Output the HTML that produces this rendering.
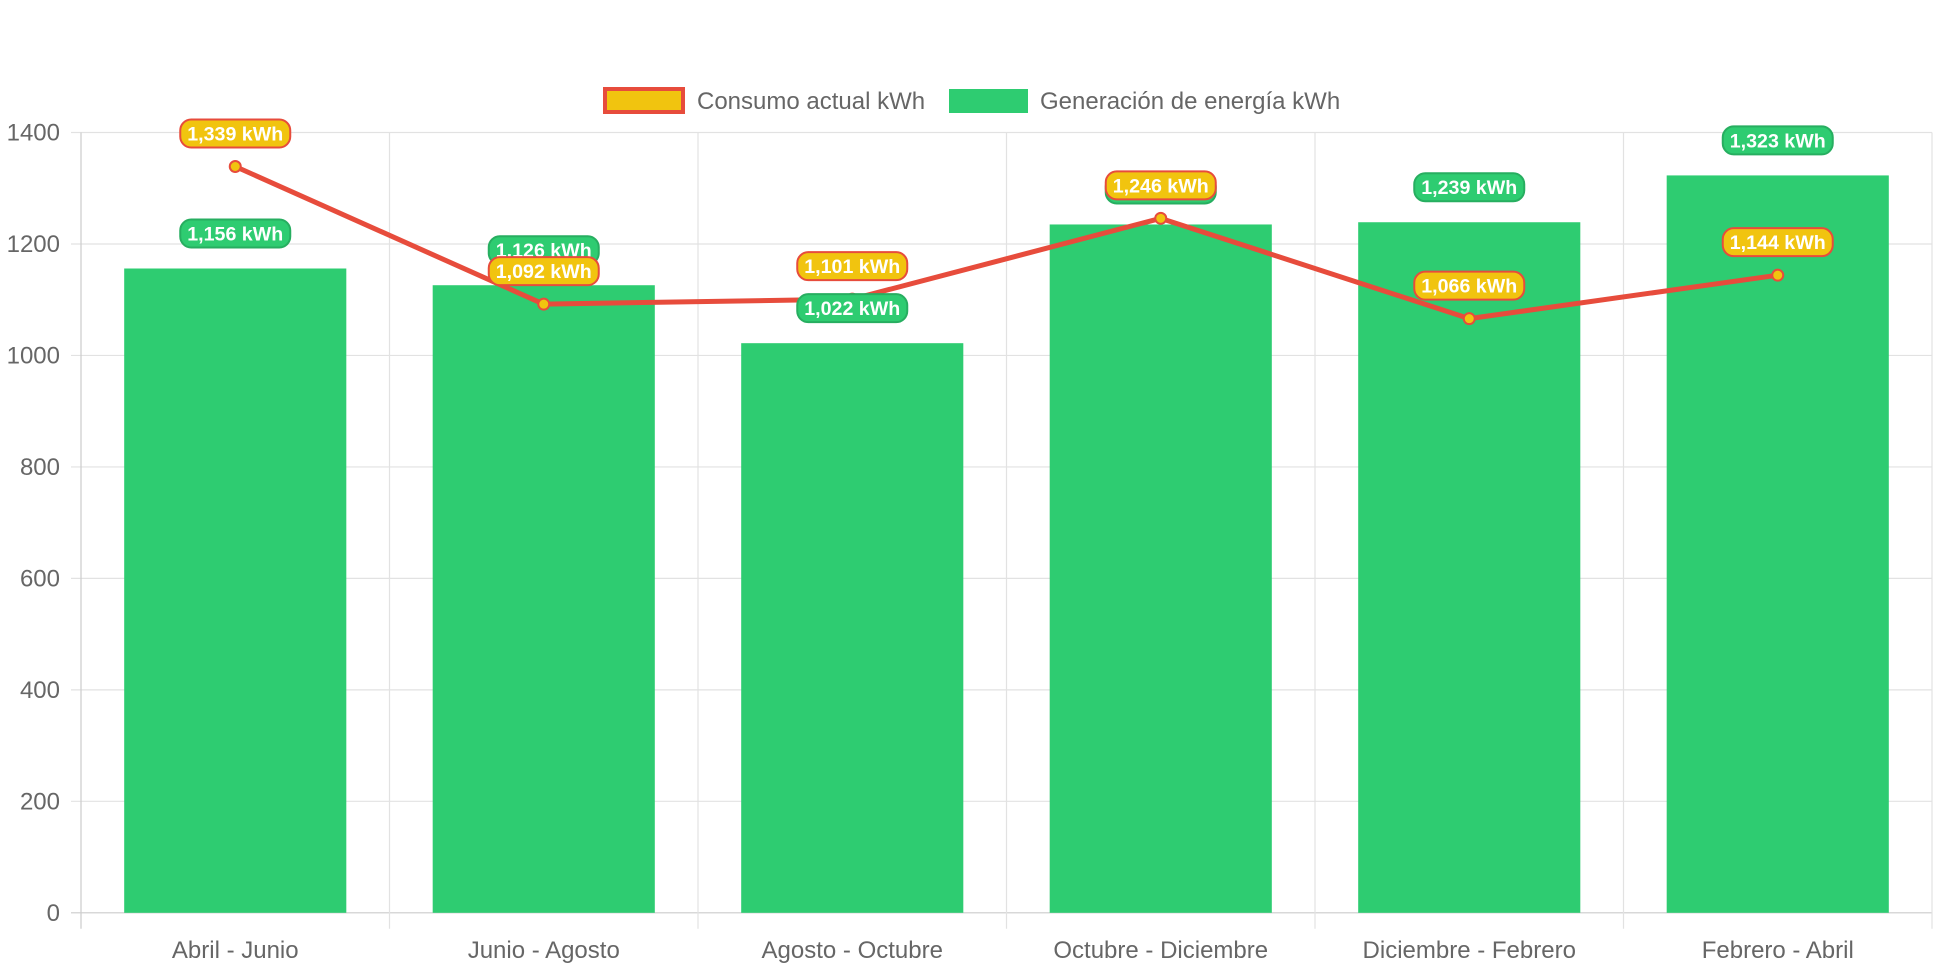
<!DOCTYPE html>
<html><head><meta charset="utf-8"><style>
html,body{margin:0;padding:0;background:#fff;}
svg{display:block;font-family:"Liberation Sans",sans-serif;}
</style></head><body>
<svg id="chart" width="1942" height="970">
<g id="grid"></g>
<g id="bars"></g>
<g id="line"></g>
<g id="labels"></g>
<g>
<g>
<rect x="605" y="89" width="78" height="23" fill="#f1c40f" stroke="#e74c3c" stroke-width="4"/>
<text x="697" y="109" font-size="24" fill="#666">Consumo actual kWh</text></g>
<g>
<rect x="949" y="89" width="79" height="24" fill="#2ecc71"/>
<text x="1040" y="109" font-size="24" fill="#666">Generación de energía kWh</text></g>
</g>
</svg>
<script>
const categories=["Abril - Junio","Junio - Agosto","Agosto - Octubre","Octubre - Diciembre","Diciembre - Febrero","Febrero - Abril"];
const generation=[1156,1126,1022,1235,1239,1323];
const consumption=[1339,1092,1101,1246,1066,1144];
const yTicks=[0,200,400,600,800,1000,1200,1400];
const NS="http://www.w3.org/2000/svg";
const L=81,R=1932,T=132.5,B=912.8,YMAX=1400;
const cw=(R-L)/categories.length;
const x=i=>L+cw*(i+0.5);
const y=v=>B-(v/YMAX)*(B-T);
function mk(tag,attrs,parent,txt){const e=document.createElementNS(NS,tag);for(const k in attrs)e.setAttribute(k,attrs[k]);if(txt!==undefined)e.textContent=txt;parent.appendChild(e);return e;}
const grid=document.getElementById('grid');
yTicks.forEach(t=>{
  mk('line',{x1:L-10,x2:R,y1:y(t),y2:y(t),stroke:t===0?'#ccc':'#e2e2e2','stroke-width':1.2},grid);
  const tl=mk('text',{x:60,y:y(t)+8,'text-anchor':'end','font-size':24,fill:'#666'},grid,String(t));
  
  
});
for(let i=0;i<=categories.length;i++){
  const gx=L+cw*i;
  mk('line',{x1:gx,x2:gx,y1:T,y2:B+16,stroke:i===0?'#ccc':'#e2e2e2','stroke-width':1.2},grid);
}
categories.forEach((c,i)=>{
  const t=mk('text',{x:x(i),y:958,'text-anchor':'middle','font-size':24,fill:'#666'},grid,c);
  
  
});
const bars=document.getElementById('bars');
const bw=cw*0.72;
generation.forEach((v,i)=>{
  const r=mk('rect',{x:x(i)-bw/2,y:y(v),width:bw,height:B-y(v),fill:'#2ecc71'},bars);
  
  
});
const line=document.getElementById('line');
const pts=consumption.map((v,i)=>x(i)+','+y(v)).join(' ');
const pl=mk('polyline',{points:pts,fill:'none',stroke:'#e74c3c','stroke-width':5,'stroke-linejoin':'round'},line);


consumption.forEach((v,i)=>{
  const c=mk('circle',{cx:x(i),cy:y(v),r:5.5,fill:'#f1c40f',stroke:'#e74c3c','stroke-width':2},line);
  
  
});
const labels=document.getElementById('labels');
function lab(cx,cy,txt,fill,stroke){
  const g=mk('g',{},labels);
  
  
  const w=110,h=28;
  mk('rect',{x:cx-w/2,y:cy-h/2,width:w,height:h,rx:11,fill:fill,stroke:stroke,'stroke-width':2},g);
  mk('text',{x:cx,y:cy+7,'text-anchor':'middle','font-size':19.5,'font-weight':'bold',fill:'#fff',textLength:96,lengthAdjust:'spacingAndGlyphs'},g,txt);
}
const fmt=v=>v.toLocaleString('en-US')+' kWh';
generation.forEach((v,i)=>lab(x(i),y(v)-35,fmt(v),'#2ecc71','#27ae60'));
consumption.forEach((v,i)=>lab(x(i),y(v)-33,fmt(v),'#f1c40f','#e74c3c'));
</script>
</body></html>
